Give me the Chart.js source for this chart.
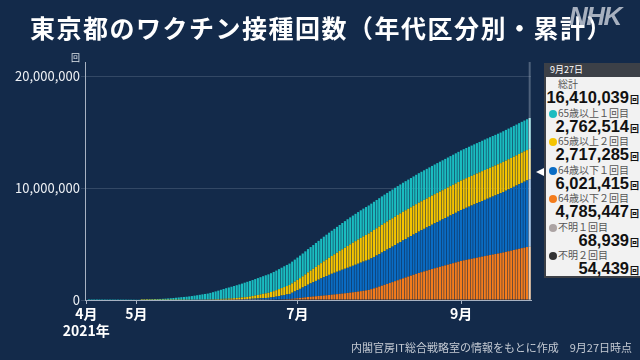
<!DOCTYPE html>
<html lang="ja">
<head>
<meta charset="utf-8">
<script src="https://cdn.jsdelivr.net/npm/chart.js@4.4.1/dist/chart.umd.min.js"></script>
<style>
 html,body{margin:0;padding:0;}
 body{width:640px;height:360px;background:#132a4a;position:relative;overflow:hidden;font-family:"Noto Sans CJK JP","Noto Sans",sans-serif;}
 #chart{position:absolute;left:0;top:0;}
 #title{position:absolute;left:30px;top:11px;color:#fff;font-size:25px;font-weight:bold;letter-spacing:1.5px;white-space:nowrap;line-height:32px;}
 #logo{position:absolute;left:569px;top:1px;color:rgba(205,210,220,0.8);font-family:"Liberation Sans",sans-serif;font-size:26px;font-weight:bold;font-style:italic;letter-spacing:-1.5px;}
 #unit{position:absolute;left:71px;top:53px;color:#dde3ea;font-size:9px;line-height:10px;}
 #source{position:absolute;right:8px;top:339px;color:#c4cad3;font-size:11px;line-height:16px;white-space:nowrap;}
 #panel{position:absolute;left:544px;top:63px;width:96px;height:215px;background:#f2f2f2;border-left:2px solid #3c4047;border-bottom:2px solid #3c4047;box-sizing:border-box;}
 #panel .hd{height:14px;background:#3c4047;color:#fff;font-size:9px;line-height:14px;padding-left:4px;}
 #panel .lbl{height:13px;line-height:13px;font-size:10px;color:#555;white-space:nowrap;padding-left:3px;}
 #panel .lbl.total{padding-left:12px;}
 #panel .dot{display:inline-block;width:8px;height:8px;border-radius:50%;margin-right:1px;vertical-align:-1px;}
 #panel .val{height:15.5px;line-height:15.5px;font-family:"Liberation Sans",Arial,sans-serif;font-size:16.5px;font-weight:bold;color:#111;text-align:right;padding-right:1px;white-space:nowrap;}
 #panel .val span{font-family:"Noto Sans CJK JP",sans-serif;font-size:9px;margin-left:1px;}
 #pointer{position:absolute;left:536px;top:168px;width:0;height:0;border-top:4px solid transparent;border-bottom:4px solid transparent;border-right:8px solid #fff;}
</style>
</head>
<body>
<canvas id="chart" width="640" height="360"></canvas>
<div id="title">東京都のワクチン接種回数（年代区分別・累計）</div>
<div id="logo">NHK</div>
<div id="unit">回</div>
<div id="panel"></div>
<div id="pointer"></div>
<div id="source">内閣官房IT総合戦略室の情報をもとに作成　9月27日時点</div>
<script>
/* daily cumulative counts from 2021/4/12 to 9/27, in thousands */
var UNIT=1000;
var startDate=[2021,3,12];

// 65歳以上１回目
var elder1=[
 0,1,2,3,3,4,5,6,7,7,8,9,10,11,12,13,15,17,20,24,
 27,31,36,42,49,57,66,76,87,99,112,128,
 146,166,188,211,235,252,270,
 296,325,356,390,425,460,492,520,
 575,630,690,750,815,880,940,990,
 1040,1090,1140,1190,1240,1300,1350,
 1390,1430,1470,1510,1545,1580,1615,1650,
 1685,1720,1755,1790,1825,1860,1890,1920,
 1945,1970,1995,2020,2042,2064,2085,
 2105,2125,2145,2165,2185,2205,2225,2245,
 2265,2287,2309,2330,2352,2376,2400,
 2415,2430,2445,2460,2472,2485,2498,2510,
 2518,2526,2533,2540,2547,2554,2561,2568,2575,2582,2588,2594,2600,2606,2612,2618,2624,2632,2640,
 2644,2648,2652,2656,2660,2664,2668,2672,2676,2680,2684,2688,2691,2694,2697,2700,
 2703,2706,2709,2712,2715,2718,2721,2724,2726,2728,2731,2734,2736,2738,2740,
 2742,2744,2746,2748,2750,2752,2754,2756,2758,2760,2763
];
// 65歳以上２回目
var elder2=[
 0,0,0,0,0,0,0,0,0,0,0,0,0,0,0,0,0,0,0,0,0,
 1,2,3,4,5,6,7,8,9,10,11,12,14,15,17,19,21,23,26,29,32,35,38,42,46,50,
 56,63,70,77,85,93,101,110,
 120,130,141,152,164,177,190,
 215,245,278,312,348,385,420,450,
 490,530,575,620,665,710,755,800,
 840,880,920,960,1000,1050,1100,
 1150,1200,1255,1310,1365,1420,1475,1530,
 1590,1650,1710,1770,1830,1890,1950,
 2010,2065,2115,2165,2215,2260,2305,2350,
 2385,2415,2440,2460,2480,2498,2514,2528,
 2538,2546,2553,2559,2564,2568,2572,2576,2580,2584,2588,
 2591,2594,2597,2600,2603,2606,2609,2612,2615,2618,2621,2624,2627,2631,2635,2640,
 2644,2648,2652,2656,2660,2664,2668,2672,2676,2680,2683,2686,2689,2692,2695,
 2697,2699,2701,2703,2705,2707,2709,2711,2713,2715,2717
];
// 64歳以下１回目
var young1=[
 0,0,0,0,0,0,0,0,0,0,0,0,0,0,0,0,0,0,0,0,0,0,0,0,0,0,0,0,0,0,0,0,0,0,0,0,0,0,0,0,0,
 1,1,2,3,4,5,
 6,7,9,11,13,15,17,20,
 26,33,41,50,59,69,80,
 90,100,110,122,134,146,158,170,
 195,225,260,300,340,380,415,450,
 540,630,720,810,910,1000,1100,
 1190,1280,1370,1460,1550,1640,1720,1800,
 1870,1935,2000,2065,2130,2190,2250,
 2310,2370,2430,2490,2550,2610,2655,2700,
 2752,2806,2860,2912,2966,3020,3070,3122,3176,3230,3282,3336,3390,3440,3490,3542,3596,3650,3700,
 3752,3806,3858,3912,3966,4018,4070,4124,4178,4230,4282,4336,4390,4442,4496,4550,
 4602,4656,4708,4762,4816,4868,4920,4974,5028,5080,5132,5186,5240,5294,5350,
 5410,5470,5530,5590,5652,5714,5776,5838,5900,5960,6021
];
// 64歳以下２回目
var young2=[
 0,0,0,0,0,0,0,0,0,0,0,0,0,0,0,0,0,0,0,0,0,0,0,0,0,0,0,0,0,0,0,0,0,0,0,0,0,0,0,0,0,0,0,0,0,0,0,0,0,0,0,0,0,0,0,
 1,2,3,4,5,6,8,
 10,12,14,16,18,20,22,25,
 30,36,43,51,60,69,79,90,
 110,135,160,185,210,240,270,
 292,314,336,358,380,403,426,450,
 475,500,525,550,577,603,630,
 660,690,722,755,790,825,862,900,
 970,1045,1120,1200,1280,1360,1440,1520,1600,1685,1770,1855,1940,2020,2100,2180,2260,2340,2420,
 2490,2560,2630,2700,2770,2840,2905,2970,3035,3100,3165,3230,3295,3360,3430,3500,
 3548,3596,3644,3692,3740,3788,3836,3884,3932,3980,4025,4070,4115,4158,4200,
 4255,4310,4365,4420,4475,4530,4585,4640,4690,4740,4785
];

/* axis labels */
var tickLabels={'4/12':['4月','2021年'],'5/1':'5月','7/1':'7月','9/1':'9月'};
var yTicks=[0,10000000,20000000];

/* side panel (9月27日) */
var panelDate='9月27日';
var panelTotal='16,410,039';
var panelNames=['65歳以上１回目','65歳以上２回目','64歳以下１回目','64歳以下２回目','不明１回目','不明２回目'];
var panelValues=['2,762,514','2,717,285','6,021,415','4,785,447','68,939','54,439'];
var panelColors=['#1abcc0','#f5c400','#0a6cc4','#f47c1c','#aca4a4','#333333'];

/* day labels */
var days=elder1.map(function(v,i){
 var d=new Date(startDate[0],startDate[1],startDate[2]+i);
 return (d.getMonth()+1)+'/'+d.getDate();
});
var last=days.length-1;

function fill(base,light){
 return function(c){return c.dataIndex===last?light:base;};
}
function scaled(arr){return arr.map(function(v){return v*UNIT;});}

/* highlight line for selected day */
var markLine={
 id:'markLine',
 beforeDatasetsDraw:function(chart){
  var c=chart.ctx,a=chart.chartArea;
  var x=chart.scales.x.getPixelForValue(last);
  c.save();
  c.strokeStyle='rgba(190,200,215,0.35)';
  c.lineWidth=2;
  c.beginPath();c.moveTo(x,a.top);c.lineTo(x,a.bottom);c.stroke();
  c.restore();
 }
};

var ctx=document.getElementById('chart').getContext('2d');
var myChart=new Chart(ctx,{
 type:'bar',
 data:{
  labels:days,
  datasets:[
   {label:'64歳以下２回目',data:scaled(young2),backgroundColor:fill('#f47c1c','#f9cfa8')},
   {label:'64歳以下１回目',data:scaled(young1),backgroundColor:fill('#0a6cc4','#a9c9ea')},
   {label:'65歳以上２回目',data:scaled(elder2),backgroundColor:fill('#f5c400','#f9e7a0')},
   {label:'65歳以上１回目',data:scaled(elder1),backgroundColor:fill('#1abcc0','#b0e8ea')}
  ]
 },
 options:{
  responsive:false,
  animation:false,
  layout:{padding:{top:62,right:109,left:0,bottom:0}},
  plugins:{legend:{display:false},tooltip:{enabled:false}},
  datasets:{bar:{barPercentage:0.8,categoryPercentage:1}},
  scales:{
   x:{
    stacked:true,
    grid:{drawOnChartArea:false,drawTicks:true,tickLength:4,color:'#a7b2c2',offset:false},
    border:{color:'#a7b2c2'},
    ticks:{
     autoSkip:false,maxRotation:0,padding:1,color:'#ffffff',
     font:{family:'"Noto Sans CJK JP"',size:14,weight:'bold'},
     callback:function(v,i){var l=tickLabels[days[i]];return l===undefined?null:l;}
    },
    afterFit:function(s){s.height=60;}
   },
   y:{
    stacked:true,min:0,max:21300000,
    afterBuildTicks:function(s){s.ticks=yTicks.map(function(v){return {value:v};});},
    grid:{color:'rgba(200,210,225,0.18)',tickLength:4},
    border:{color:'#a7b2c2'},
    ticks:{
     padding:1,color:'#eef1f5',
     font:{family:'"Noto Sans CJK JP"',size:13},
     callback:function(v){return v.toLocaleString('en-US');}
    },
    afterFit:function(s){s.width=85;}
   }
  }
 },
 plugins:[markLine]
});

/* build side panel */
var html='<div class="hd">'+panelDate+'</div>';
html+='<div class="lbl total">総計</div><div class="val">'+panelTotal+'<span>回</span></div>';
panelNames.forEach(function(n,i){
 html+='<div class="lbl"><span class="dot" style="background:'+panelColors[i]+'"></span>'+n+'</div>';
 html+='<div class="val">'+panelValues[i]+'<span>回</span></div>';
});
document.getElementById('panel').innerHTML=html;
</script>
</body>
</html>
